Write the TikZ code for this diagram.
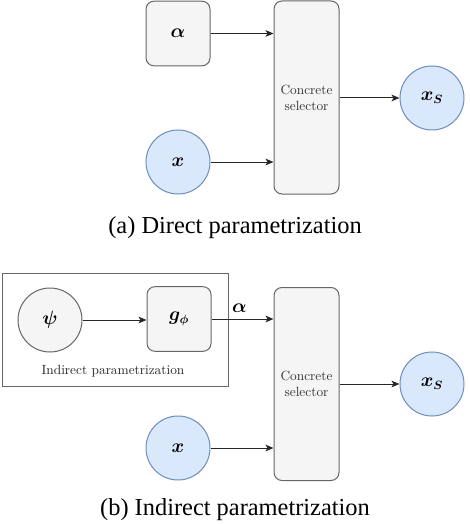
\documentclass[tikz,border=0pt]{standalone}
\usepackage{bm}
\usepackage{fontspec}
\newfontfamily\capfont{Liberation Serif}
\usetikzlibrary{arrows.meta}
\definecolor{grayfill}{HTML}{F5F5F5}
\definecolor{graydraw}{HTML}{666666}
\definecolor{bluefill}{HTML}{DAE8FC}
\definecolor{bluedraw}{HTML}{6C8EBF}
\definecolor{txtgray}{HTML}{333333}
\tikzset{
  graybox/.style={draw=graydraw, fill=grayfill, rounded corners=6pt, line width=0.75pt, inner sep=0pt},
  graycirc/.style={circle, draw=graydraw, fill=grayfill, line width=0.75pt, minimum size=48pt, inner sep=0pt},
  bluecirc/.style={circle, draw=bluedraw, fill=bluefill, line width=0.75pt, minimum size=48pt, inner sep=0pt},
  selbox/.style={graybox, minimum width=48.75pt, minimum height=144.75pt, align=center, font=\fontsize{10pt}{12pt}\selectfont, text=txtgray},
  parbox/.style={graybox, minimum width=48pt, minimum height=48.5pt},
  conn/.style={line width=0.75pt, draw=black!85, -{Stealth[length=6pt,width=5pt,inset=1.5pt]}},
  caption/.style={font=\capfont\fontsize{18.3pt}{20pt}\selectfont},
  smalltext/.style={font=\fontsize{10pt}{12pt}\selectfont, text=black!85},
  mathtxt/.style={font=\fontsize{13.5pt}{15pt}\selectfont}
}
\begin{document}
\begin{tikzpicture}[x=0.75pt, y=-0.75pt]
\useasboundingbox (0,0) rectangle (470,524);
% (a)
\node[parbox, mathtxt] (alphaA) at (178,33.5) {$\bm{\alpha}$};
\node[selbox] (selA) at (306.5,97.5) {Concrete\\selector};
\node[bluecirc, mathtxt] (xA) at (178,162) {$\bm{x}$};
\node[bluecirc, mathtxt] (xsA) at (432,98) {$\bm{x_S}$};
\draw[conn] (alphaA.east) -- (alphaA.east -| selA.west);
\draw[conn] (xA.east) -- (xA.east -| selA.west);
\draw[conn] (selA.east |- xsA.west) -- (xsA.west);
\node[caption] (capA) at (235,228) {(a) Direct parametrization};
% (b)
\node[draw=graydraw, line width=0.75pt, minimum width=169.5pt, minimum height=84.75pt, inner sep=0pt] (outer) at (115,329.5) {};
\node[graycirc, mathtxt] (psi) at (50,320) {$\bm{\psi}$};
\node[parbox, mathtxt] (g) at (179,319) {$\bm{g_\phi}$};
\node[smalltext] (indlab) at (113,371) {Indirect parametrization};
\node[selbox] (selB) at (306.5,384) {Concrete\\selector};
\node[bluecirc, mathtxt] (xB) at (178,448) {$\bm{x}$};
\node[bluecirc, mathtxt] (xsB) at (432,384) {$\bm{x_S}$};
\draw[conn] (psi.east) -- (psi.east -| g.west);
\draw[conn] (g.east) -- node[above, mathtxt, pos=0.45, yshift=1pt] (alphaB) {$\bm{\alpha}$} (g.east -| selB.west);
\draw[conn] (xB.east) -- (xB.east -| selB.west);
\draw[conn] (selB.east |- xsB.west) -- (xsB.west);
\node[caption] (capB) at (235,510) {(b) Indirect parametrization};
\end{tikzpicture}
\end{document}
